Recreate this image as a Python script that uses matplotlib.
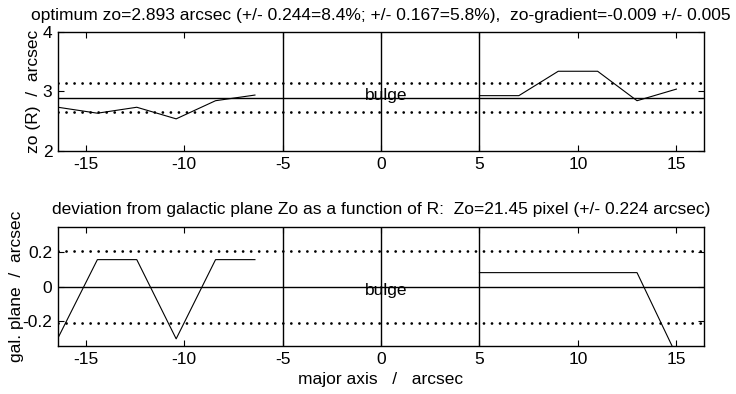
import matplotlib
matplotlib.use("Agg")
import matplotlib.pyplot as plt

plt.rcParams['font.family'] = ['Liberation Sans', 'DejaVu Sans']
plt.rcParams['font.size'] = 12.5
plt.rcParams['axes.unicode_minus'] = False

# Data
x_left = [-16.4, -14.4, -12.4, -10.4, -8.4, -6.4]
x_right = [5, 7, 9, 11, 13, 15]
zo_left = [2.735, 2.635, 2.735, 2.54, 2.845, 2.94]
zo_right = [2.93, 2.93, 3.34, 3.34, 2.845, 3.04]
gal_left = [-0.30, 0.158, 0.158, -0.305, 0.158, 0.158]
gal_right = [0.082, 0.082, 0.082, 0.082, 0.082, -0.40]

zo_opt = 2.893
zo_err = 0.244
gal_err = 0.21
bulge_edges = [-5, 0, 5]
xticks = [-15, -10, -5, 0, 5, 10, 15]

top_title = ("optimum zo=2.893 arcsec (+/- 0.244=8.4%; +/- 0.167=5.8%),  "
             "zo-gradient=-0.009 +/- 0.005")
bottom_title = ("deviation from galactic plane Zo as a function of R:  "
                "Zo=21.45 pixel (+/- 0.224 arcsec)")

fig = plt.figure(figsize=(7.36, 3.94), dpi=100)
ax1 = fig.add_axes([0.0788, 0.6168, 0.8777, 0.302])
ax2 = fig.add_axes([0.0788, 0.1218, 0.8777, 0.3013])

dot_lw = 2.0
dots = (0, (0.01, 5.76 / dot_lw))


def style_axes(ax):
    ax.set_xlim(-16.4, 16.4)
    ax.set_xticks(xticks)
    ax.tick_params(direction='in', length=4, width=0.8, top=True, right=True,
                   labelsize=12.5, pad=4)
    for s in ax.spines.values():
        s.set_linewidth(1.0)
    for xb in bulge_edges:
        ax.axvline(xb, color='black', lw=1.0)


# Top panel: zo(R)
style_axes(ax1)
ax1.set_ylim(2, 4)
ax1.set_yticks([2, 3, 4])
ax1.axhline(zo_opt, color='black', lw=1.0)
for yv in (zo_opt + zo_err, zo_opt - zo_err):
    ax1.axhline(yv, color='black', lw=dot_lw, linestyle=dots,
                dash_capstyle='round')
ax1.plot(x_left, zo_left, color='black', lw=0.8)
ax1.plot(x_right, zo_right, color='black', lw=0.8)
ax1.text(0.27, 2.93, 'bulge', ha='center', va='center')
ax1.set_title(top_title, fontsize=12.5, pad=8.4)
ax1.set_ylabel('zo (R)  /  arcsec', labelpad=1)

# Bottom panel: deviation from plane
style_axes(ax2)
ax2.set_ylim(-0.347, 0.347)
ax2.set_yticks([-0.2, 0, 0.2])
ax2.set_yticklabels(['-0.2', '0', '0.2'])
ax2.axhline(0, color='black', lw=1.0)
for yv in (gal_err, -gal_err):
    ax2.axhline(yv, color='black', lw=dot_lw, linestyle=dots,
                dash_capstyle='round')
ax2.plot(x_left, gal_left, color='black', lw=0.8)
ax2.plot(x_right, gal_right, color='black', lw=0.8)
ax2.text(0.27, -0.022, 'bulge', ha='center', va='center')
ax2.set_title(bottom_title, fontsize=12.5, pad=9.5)
ax2.set_ylabel('gal. plane  /  arcsec', labelpad=-1)
ax2.set_xlabel('major axis   /   arcsec', labelpad=4)

fig.savefig('out.png', dpi=100)
